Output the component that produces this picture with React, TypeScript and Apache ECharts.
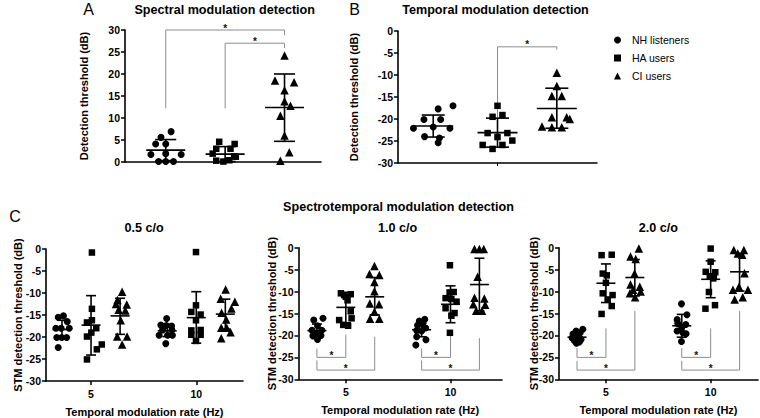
import React, { useEffect, useRef } from "react";
import * as echarts from "echarts";

type Pt = [number, number]; // [horizontal jitter (fraction of group slot), threshold dB]
type Stat = [number, number, number]; // [mean, mean - SD, mean + SD]

const FONT = '"Liberation Sans", Arial, Helvetica, sans-serif';
const GROUP_NAMES = ["NH listeners", "HA users", "CI users"];
const GROUP_SYMBOLS = ["circle", "rect", "triangle"];
const SYMBOL_SIZES = [7, 6.5, 8.5];

// ---------- Panel A: spectral modulation detection (dB) ----------
const specPos = [0, 1, 2];
const specNH: Pt[] = [[0.09, 6.9], [-0.08, 5.6], [-0.17, 4.1], [0.0, 4.1], [-0.25, 1.7], [0.26, 1.7], [0.0, 1.9], [-0.12, 0.1], [0.0, 0.1], [0.13, 0.1]];
const specHA: Pt[] = [[-0.1, 4.6], [0.16, 4.1], [-0.15, 3.0], [0.09, 3.0], [-0.21, 1.9], [0.15, 1.3], [-0.15, 0.3], [-0.03, 0.1], [0.07, 0.4], [0.18, 1.2]];
const specCI: Pt[] = [[0, 24.2], [-0.16, 18.5], [0.16, 18.1], [0, 16.3], [0, 13.8], [0.1, 12.8], [-0.07, 10.5], [0, 6.0], [0.08, 2.2], [-0.07, 0.3]];
const specStats: Stat[] = [[2.7, 0.3, 5.1], [1.8, 0.1, 3.5], [12.4, 4.7, 20.0]];
// [group from, group to, bracket level, left leg end, right leg end]
const specBrackets = [[0, 2, 30, 12.2, 28.8], [1, 2, 27, 12.2, 25.9]];

// ---------- Panel B: temporal modulation detection (dB) ----------
const tempPos = [0, 1.04, 2];
const tempNH: Pt[] = [[0.08, -17.7], [0.32, -17.0], [-0.15, -20.1], [0.12, -20.1], [-0.32, -22.1], [0, -21.8], [0.27, -22.1], [0.1, -24.3], [-0.14, -24.0], [0.08, -25.4]];
const tempHA: Pt[] = [[0, -17.0], [-0.08, -19.5], [0.08, -19.1], [-0.16, -23.2], [0, -24.1], [0.16, -23.2], [-0.24, -25.9], [0.08, -25.9], [0.24, -24.9], [-0.08, -26.8]];
const tempCI: Pt[] = [[0, -9.5], [0, -12.5], [-0.08, -14.8], [0.08, -14.8], [-0.08, -19.6], [0.16, -19.6], [-0.24, -21.7], [-0.08, -21.9], [0.08, -21.9], [0.21, -20.0]];
const tempStats: Stat[] = [[-21.6, -24.1, -19.1], [-23.1, -26.4, -19.8], [-17.6, -22.1, -13.0]];
const tempBrackets = [[1, 2, -3.6, -20.2, -4.3]];

// ---------- Panel C: spectrotemporal modulation detection (dB) ----------
const RATES = [5, 10];
const GROUP_OFFSET_HZ = 1.38;

// 0.5 c/o
const stm05At5: Pt[][] = [
  [[0.05, -15.2], [-0.13, -15.5], [0.18, -16.5], [-0.21, -18.0], [0.25, -18.0], [-0.03, -18.0], [-0.18, -20.1], [-0.01, -20.1], [0.16, -20.1], [-0.13, -22.4]],
  [[0.03, -0.8], [0.03, -13.6], [0.03, -16.2], [-0.14, -16.7], [0.18, -18.0], [0.01, -19.0], [-0.14, -19.9], [0.37, -21.7], [0.2, -22.8], [-0.14, -25.1]],
  [[0.07, -9.7], [-0.09, -11.6], [0.23, -12.6], [-0.05, -13.8], [0.18, -14.0], [0.02, -16.2], [-0.1, -19.9], [0.24, -19.9], [0.07, -21.7], [-0.14, -12.5]],
];
const stm05At10: Pt[][] = [
  [[-0.02, -15.8], [-0.22, -17.3], [-0.03, -17.4], [0.15, -17.5], [-0.16, -18.4], [0.16, -18.4], [-0.28, -19.6], [0.01, -19.6], [0.18, -19.6], [-0.05, -21.5]],
  [[-0.01, -0.7], [-0.01, -12.8], [-0.17, -14.3], [0.15, -14.9], [-0.01, -16.2], [-0.17, -18.5], [0.15, -18.4], [-0.17, -19.5], [0.15, -19.5], [-0.01, -20.9]],
  [[0.01, -9.2], [-0.16, -11.3], [0.33, -12.0], [0.21, -13.5], [-0.13, -14.5], [0.03, -16.0], [-0.14, -17.9], [0.05, -17.9], [0.18, -18.9], [-0.14, -20.3]],
];
const stm05Stats5: Stat[] = [[-18.3, -20.4, -16.2], [-17.3, -24.1, -10.6], [-15.2, -19.4, -11.2]];
const stm05Stats10: Stat[] = [[-18.6, -19.9, -17.5], [-15.6, -21.4, -9.7], [-14.8, -18.2, -11.4]];
const stm05Brackets: number[][] = [];

// 1.0 c/o
const stm10At5: Pt[][] = [
  [[0.21, -16.1], [-0.11, -16.5], [0.02, -17.8], [-0.17, -18.8], [0.17, -18.8], [-0.06, -19.5], [0.09, -19.5], [-0.14, -20.1], [0.14, -20.0], [0.02, -20.9]],
  [[-0.17, -10.4], [0.17, -10.6], [0, -11.2], [0.06, -12.0], [0.17, -14.5], [-0.23, -16.5], [0.2, -16.1], [-0.09, -17.6], [0.08, -17.8], [-0.06, -10.8]],
  [[-0.01, -4.2], [-0.18, -6.0], [0.16, -6.2], [-0.01, -7.8], [-0.01, -9.9], [-0.17, -12.7], [0.15, -12.9], [-0.01, -14.6], [-0.16, -16.2], [0.16, -16.2]],
];
const stm10At10: Pt[][] = [
  [[0.11, -16.3], [-0.08, -16.7], [0.03, -17.5], [-0.14, -17.7], [0.14, -18.3], [-0.17, -18.9], [0, -19.0], [-0.17, -20.3], [0.15, -21.0], [-0.2, -22.2]],
  [[-0.02, -4.0], [-0.03, -10.2], [0.11, -10.1], [-0.17, -11.5], [0.03, -11.7], [0.21, -12.3], [-0.17, -13.8], [0.14, -14.9], [0.03, -15.5], [-0.02, -19.4]],
  [[-0.17, -0.3], [0, -0.3], [0.15, -0.3], [-0.06, -6.6], [-0.17, -11.4], [0.17, -11.6], [-0.21, -12.9], [0.2, -13.0], [-0.11, -14.4], [0.09, -14.4]],
];
const stm10Stats5: Stat[] = [[-18.9, -20.3, -17.4], [-13.6, -17.1, -10.2], [-11.2, -15.3, -6.8]];
const stm10Stats10: Stat[] = [[-18.7, -20.3, -17.2], [-12.9, -17.1, -8.7], [-8.4, -14.4, -2.4]];
// [rate, group from, group to, level, left leg end, right leg end]
const stm10Brackets = [[5, 0, 1, -25, -23, -19.8], [5, 0, 2, -27.9, -25.7, -20.3], [10, 0, 1, -25, -23, -19.9], [10, 0, 2, -27.9, -25.7, -20.6]];

// 2.0 c/o
const stm20At5: Pt[][] = [
  [[0.2, -18.6], [-0.03, -19.0], [0.11, -19.4], [-0.14, -19.7], [0.03, -20.3], [-0.17, -20.6], [0.14, -20.9], [-0.09, -21.2], [0.08, -21.5], [-0.02, -21.8]],
  [[-0.15, -1.7], [0.2, -1.6], [-0.11, -5.9], [0.03, -6.3], [0, -8.0], [-0.11, -10.4], [0.23, -10.8], [0.06, -11.8], [0.2, -13.3], [-0.15, -15.1]],
  [[0.14, -0.2], [-0.15, -2.0], [0.03, -2.6], [-0.01, -5.9], [-0.15, -8.4], [0.17, -8.9], [-0.06, -9.6], [0.2, -10.0], [-0.17, -10.4], [0.01, -11.3]],
];
const stm20At10: Pt[][] = [
  [[-0.01, -12.8], [0.18, -15.3], [-0.16, -16.4], [-0.14, -17.3], [0.14, -17.5], [0.0, -18.2], [-0.16, -19.0], [0.15, -19.6], [0.04, -19.4], [-0.01, -21.4]],
  [[0, -0.2], [0, -3.2], [-0.17, -5.5], [0.16, -5.6], [-0.03, -6.5], [0.09, -7.0], [-0.06, -10.1], [0.15, -13.1], [-0.18, -13.9], [0.11, -6.5]],
  [[-0.2, -0.5], [0.15, -0.5], [-0.06, -1.3], [0.09, -1.6], [0.17, -5.8], [-0.02, -8.9], [-0.23, -9.6], [0.29, -9.6], [-0.17, -11.8], [0.11, -11.3]],
];
const stm20Stats5: Stat[] = [[-20.4, -21.3, -19.5], [-8.1, -12.5, -3.7], [-6.8, -11.0, -2.7]];
const stm20Stats10: Stat[] = [[-17.8, -20.4, -15.2], [-7.2, -11.4, -3.0], [-5.5, -9.9, -1.3]];
const stm20Brackets = [[5, 0, 1, -25, -22.9, -18.4], [5, 0, 2, -27.9, -25.8, -14.4], [10, 0, 1, -25, -22.9, -18.4], [10, 0, 2, -27.9, -25.8, -14.4]];

const Y_TICKS_POS = { min: 0, max: 30, interval: 5 };
const Y_TICKS_NEG = { min: -30, max: 0, interval: 5 };

const BLACK = "#000";
const GREY = "#8c8c8c";

function scatter(panel: number, g: number, data: number[][]) {
  return {
    type: "scatter",
    name: GROUP_NAMES[g],
    xAxisIndex: panel,
    yAxisIndex: panel,
    symbol: GROUP_SYMBOLS[g],
    symbolSize: SYMBOL_SIZES[g],
    itemStyle: { color: BLACK, opacity: 1 },
    clip: false,
    silent: true,
    z: 3,
    data,
  };
}

function stats(panel: number, data: number[][], meanHalf: number, capHalf: number) {
  return {
    type: "custom",
    xAxisIndex: panel,
    yAxisIndex: panel,
    silent: true,
    z: 4,
    itemStyle: { color: BLACK },
    data,
    renderItem: (_p: any, api: any) => {
      const x = api.value(0);
      const m = api.coord([x, api.value(1)]);
      const lo = api.coord([x, api.value(2)]);
      const hi = api.coord([x, api.value(3)]);
      const st = { stroke: BLACK, lineWidth: 1.6 };
      return {
        type: "group",
        children: [
          { type: "line", shape: { x1: m[0] - meanHalf, y1: m[1], x2: m[0] + meanHalf, y2: m[1] }, style: st },
          { type: "line", shape: { x1: lo[0], y1: lo[1], x2: hi[0], y2: hi[1] }, style: st },
          { type: "line", shape: { x1: hi[0] - capHalf, y1: hi[1], x2: hi[0] + capHalf, y2: hi[1] }, style: st },
          { type: "line", shape: { x1: lo[0] - capHalf, y1: lo[1], x2: lo[0] + capHalf, y2: lo[1] }, style: st },
        ],
      };
    },
  };
}

function brackets(panel: number, data: number[][]) {
  return {
    type: "custom",
    xAxisIndex: panel,
    yAxisIndex: panel,
    silent: true,
    z: 2,
    clip: false,
    itemStyle: { color: GREY },
    data,
    renderItem: (_p: any, api: any) => {
      const x1 = api.value(0);
      const x2 = api.value(1);
      const lvl = api.value(2);
      const a = api.coord([x1, api.value(3)]);
      const b = api.coord([x1, lvl]);
      const c = api.coord([x2, lvl]);
      const d = api.coord([x2, api.value(4)]);
      return {
        type: "group",
        children: [
          { type: "polyline", shape: { points: [a, b, c, d] }, style: { stroke: GREY, lineWidth: 1, fill: "none" } },
          {
            type: "text",
            x: (b[0] + c[0]) / 2,
            y: b[1] - 2,
            style: { text: "*", fill: "#111", font: `bold 10px ${FONT}`, align: "center", verticalAlign: "middle" },
          },
        ],
      };
    },
  };
}

const axisLineStyle = { show: true, onZero: false, lineStyle: { color: BLACK, width: 1.6 } };
const labelStyle = { color: BLACK, fontSize: 10.5, fontWeight: "bold", fontFamily: FONT };
const nameStyle = { color: BLACK, fontSize: 11, fontWeight: "bold", fontFamily: FONT };

function yAxis(grid: number, ticks: any, nameGap: number, name: string) {
  return {
    gridIndex: grid,
    type: "value",
    ...ticks,
    name,
    nameLocation: "middle",
    nameGap,
    nameMoveOverlap: false,
    nameTextStyle: nameStyle,
    axisLine: axisLineStyle,
    axisTick: { show: true, length: 4, lineStyle: { color: BLACK, width: 1.5 } },
    axisLabel: { ...labelStyle, margin: 5 },
    splitLine: { show: false },
  };
}

function stmXAxis(grid: number, min: number, max: number) {
  return {
    gridIndex: grid,
    type: "value",
    min,
    max,
    name: "Temporal modulation rate (Hz)",
    nameLocation: "middle",
    nameGap: 25,
    nameMoveOverlap: false,
    nameTextStyle: nameStyle,
    axisLine: axisLineStyle,
    axisTick: { show: true, length: 4, customValues: RATES, lineStyle: { color: BLACK, width: 1.5 } },
    axisLabel: { ...labelStyle, margin: 7, customValues: RATES },
    splitLine: { show: false },
  };
}

function buildOption() {
  const series: any[] = [];

  // Panel A
  [specNH, specHA, specCI].forEach((pts, g) =>
    series.push(scatter(0, g, pts.map(([j, v]) => [specPos[g] + j, v])))
  );
  series.push(stats(0, specStats.map((s, g) => [specPos[g], ...s]), 19.5, 10.5));
  series.push(brackets(0, specBrackets.map(([g1, g2, l, e1, e2]) => [specPos[g1], specPos[g2], l, e1, e2])));

  // Panel B
  [tempNH, tempHA, tempCI].forEach((pts, g) =>
    series.push(scatter(1, g, pts.map(([j, v]) => [tempPos[g] + j, v])))
  );
  series.push(stats(1, tempStats.map((s, g) => [tempPos[g], ...s]), 20, 11.5));
  series.push(brackets(1, tempBrackets.map(([g1, g2, l, e1, e2]) => [tempPos[g1], tempPos[g2], l, e1, e2])));

  // Panel C
  const gx = (rate: number, g: number) => rate + (g - 1) * GROUP_OFFSET_HZ;
  const stmPanels = [
    { at5: stm05At5, at10: stm05At10, s5: stm05Stats5, s10: stm05Stats10, br: stm05Brackets },
    { at5: stm10At5, at10: stm10At10, s5: stm10Stats5, s10: stm10Stats10, br: stm10Brackets },
    { at5: stm20At5, at10: stm20At10, s5: stm20Stats5, s10: stm20Stats10, br: stm20Brackets },
  ];
  stmPanels.forEach((p, k) => {
    const panel = 2 + k;
    for (let g = 0; g < 3; g++) {
      const pts = [
        ...p.at5[g].map(([j, v]) => [gx(RATES[0], g) + j * GROUP_OFFSET_HZ, v]),
        ...p.at10[g].map(([j, v]) => [gx(RATES[1], g) + j * GROUP_OFFSET_HZ, v]),
      ];
      series.push(scatter(panel, g, pts));
    }
    const st = [
      ...p.s5.map((s, g) => [gx(RATES[0], g), ...s]),
      ...p.s10.map((s, g) => [gx(RATES[1], g), ...s]),
    ];
    series.push(stats(panel, st, 9.5, 5));
    if (p.br.length) {
      series.push(brackets(panel, p.br.map(([r, g1, g2, l, e1, e2]) => [gx(r, g1), gx(r, g2), l, e1, e2])));
    }
  });

  const titleFont = `bold 12.6px ${FONT}`;
  const letterFont = `16px ${FONT}`;
  const txt = (text: string, x: number, y: number, font: string) => ({
    type: "text",
    x,
    y,
    silent: true,
    style: { text, font, fill: BLACK, align: "center", verticalAlign: "middle" },
  });

  return {
    animation: false,
    textStyle: { fontFamily: FONT },
    grid: [
      { left: 125, top: 30, width: 196, height: 132, outerBoundsMode: "none" },
      { left: 398, top: 31, width: 199, height: 132, outerBoundsMode: "none" },
      { left: 46, top: 249, width: 197, height: 132, outerBoundsMode: "none" },
      { left: 298.5, top: 247.7, width: 203.5, height: 131.6, outerBoundsMode: "none" },
      { left: 559, top: 247.7, width: 199, height: 131.6, outerBoundsMode: "none" },
    ],
    xAxis: [
      {
        gridIndex: 0, type: "value", min: -0.686, max: 2.614,
        axisLine: axisLineStyle, axisTick: { show: false }, axisLabel: { show: false }, splitLine: { show: false },
      },
      {
        gridIndex: 1, type: "value", min: -0.57, max: 2.65,
        axisLine: axisLineStyle,
        axisTick: { show: true, length: 3, customValues: [tempPos[1]], lineStyle: { color: BLACK, width: 1 } },
        axisLabel: { show: false }, splitLine: { show: false },
      },
      stmXAxis(2, 2.86, 12.22),
      stmXAxis(3, 2.74, 12.46),
      stmXAxis(4, 2.76, 12.26),
    ],
    yAxis: [
      yAxis(0, Y_TICKS_POS, 36, "Detection threshold (dB)"),
      yAxis(1, Y_TICKS_NEG, 39, "Detection threshold (dB)"),
      yAxis(2, Y_TICKS_NEG, 23, "STM detection threshold (dB)"),
      yAxis(3, Y_TICKS_NEG, 21, "STM detection threshold (dB)"),
      yAxis(4, Y_TICKS_NEG, 20, "STM detection threshold (dB)"),
    ],
    legend: {
      data: GROUP_NAMES.map((n, i) => ({ name: n, icon: GROUP_SYMBOLS[i] })),
      orient: "vertical",
      left: 614,
      top: 34,
      itemWidth: 7,
      itemHeight: 7,
      itemGap: 6,
      padding: 0,
      selectedMode: false,
      itemStyle: { color: BLACK },
      textStyle: { color: BLACK, fontSize: 10.5, fontFamily: FONT, lineHeight: 12, padding: [0, 0, 0, 6] },
    },
    graphic: [
      txt("A", 88.5, 9.5, letterFont),
      txt("B", 354.5, 9.5, letterFont),
      txt("C", 15, 216, letterFont),
      txt("Spectral modulation detection", 224.7, 10, titleFont),
      txt("Temporal modulation detection", 495.5, 10, titleFont),
      txt("Spectrotemporal modulation detection", 398.5, 207, titleFont),
      txt("0.5 c/o", 144, 227.5, titleFont),
      txt("1.0 c/o", 397.5, 227.5, titleFont),
      txt("2.0 c/o", 658.3, 227.5, titleFont),
    ],
    series,
  };
}

export default function App() {
  const ref = useRef<HTMLDivElement>(null);
  useEffect(() => {
    if (!ref.current) return;
    const chart = echarts.init(ref.current, undefined, { renderer: "svg" });
    chart.setOption(buildOption() as any);
    return () => chart.dispose();
  }, []);
  return (
    <div
      ref={ref}
      style={{ position: "fixed", left: 0, top: 0, width: 760, height: 418, background: "#fff" }}
    />
  );
}
